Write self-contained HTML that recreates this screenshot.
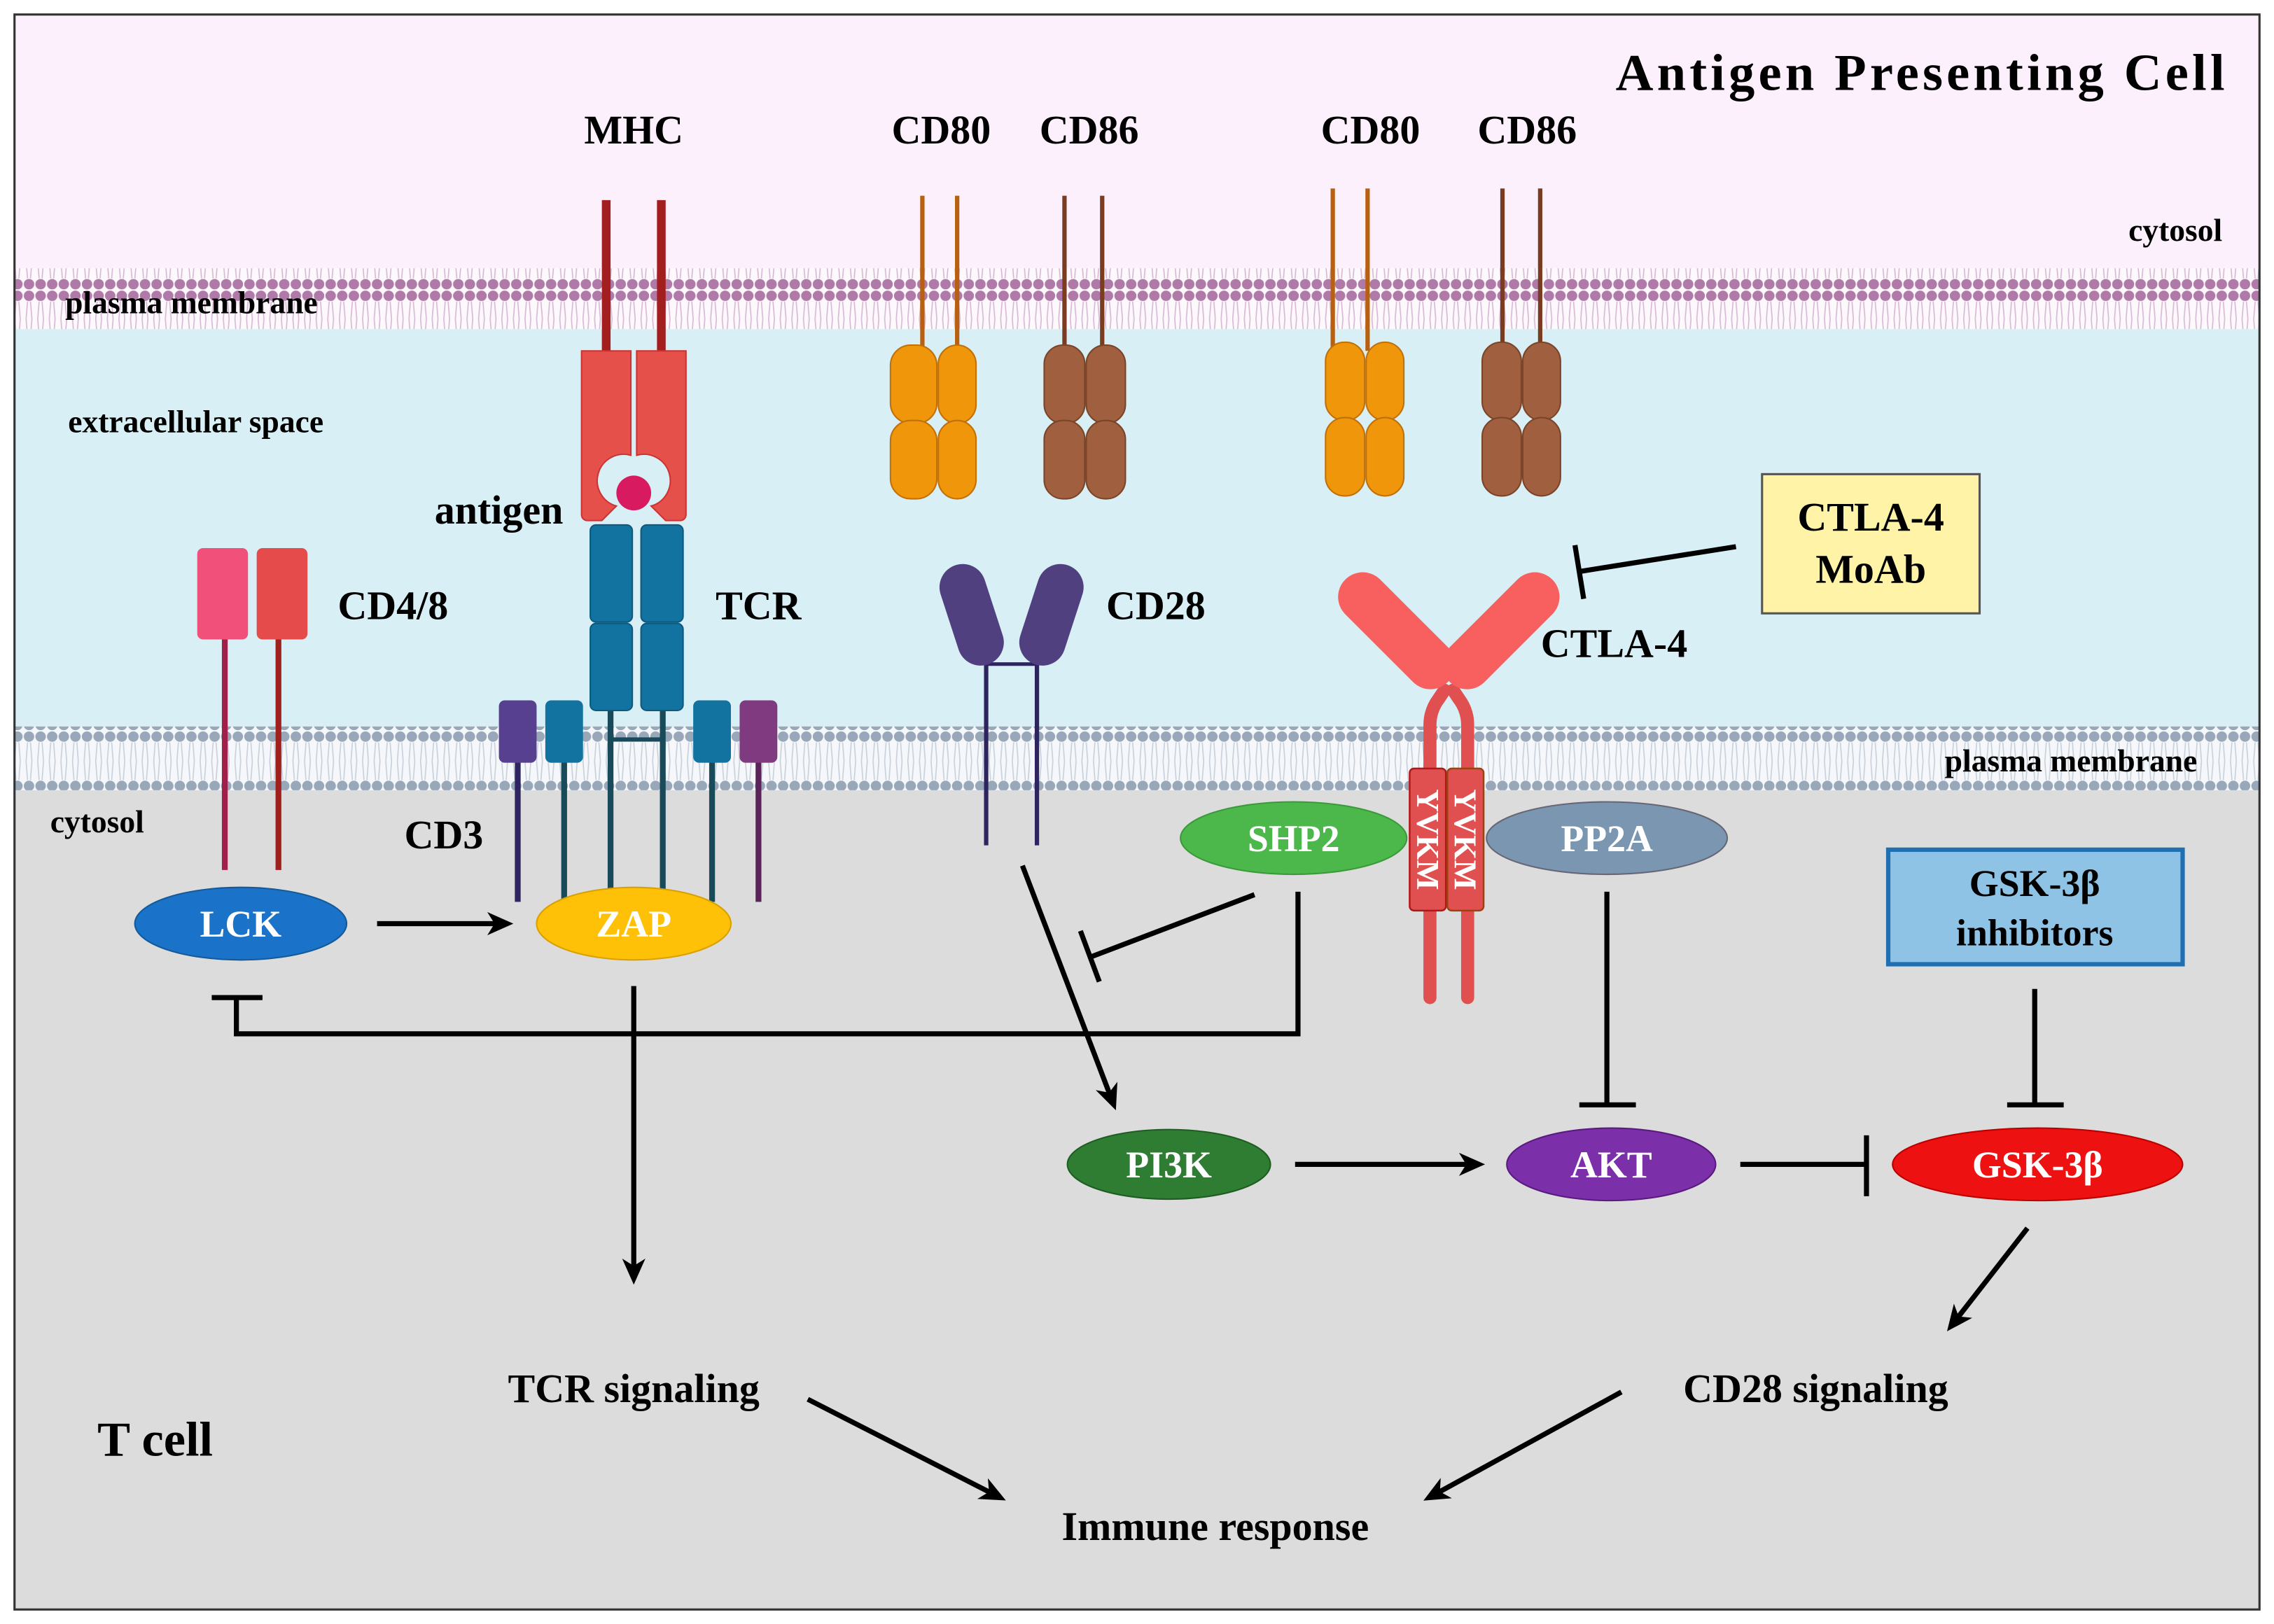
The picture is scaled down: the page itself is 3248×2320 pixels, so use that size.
<!DOCTYPE html>
<html><head><meta charset="utf-8"><style>
html,body{margin:0;padding:0;background:#fff}
svg{display:block}
text{font-family:"Liberation Serif",serif;font-weight:bold}
</style></head><body>
<svg width="3248" height="2320" viewBox="0 0 1568 1120" xmlns="http://www.w3.org/2000/svg">
<defs>
<pattern id="mp" x="0" y="0" width="8" height="40" patternUnits="userSpaceOnUse">
<circle cx="4" cy="4" r="3.6" fill="#b07aa8"/><circle cx="4" cy="36" r="3.6" fill="#b07aa8"/>
<path d="M3 8 L2 20 M5 8 L6 20 M3 32 L2 20 M5 32 L6 20" stroke="#d8b8d4" stroke-width="0.8"/>
</pattern>
<pattern id="mb" x="0" y="0" width="8" height="42" patternUnits="userSpaceOnUse">
<circle cx="4" cy="4" r="3.6" fill="#98a8b8"/><circle cx="4" cy="38" r="3.6" fill="#98a8b8"/>
<path d="M3 8 L2 21 M5 8 L6 21 M3 34 L2 21 M5 34 L6 21" stroke="#c8d0da" stroke-width="0.8"/>
</pattern>
<marker id="ah" markerWidth="18" markerHeight="16" refX="14" refY="8" orient="auto" markerUnits="userSpaceOnUse"><path d="M0,0 L18,8 L0,16 L5,8 z" fill="#000"/></marker>
</defs>
<rect x="0" y="0" width="1568" height="1120" fill="#fff"/>
<rect x="10" y="10" width="1548" height="175" fill="#fbf0fb"/>
<rect x="10" y="185" width="1548" height="42" fill="#fcf8fc"/>
<rect x="10" y="185" width="1548" height="42" fill="url(#mp)"/>
<rect x="10" y="227" width="1548" height="274" fill="#d8eff5"/>
<rect x="10" y="501" width="1548" height="44" fill="#f5f7fa"/>
<rect x="10" y="501" width="1548" height="44" fill="url(#mb)"/>
<rect x="10" y="545" width="1548" height="565" fill="#dcdcdc"/>
<rect x="10" y="10" width="1548" height="1100" fill="none" stroke="#333" stroke-width="1.5"/>

<g fill="#000" font-size="28" text-anchor="middle">
<text x="1324" y="62" font-size="36" textLength="420">Antigen Presenting Cell</text>
<text x="437" y="99">MHC</text>
<text x="649" y="99">CD80</text>
<text x="751" y="99">CD86</text>
<text x="945" y="99">CD80</text>
<text x="1053" y="99">CD86</text>
<text x="1500" y="166" font-size="22">cytosol</text>
<text x="132" y="216" font-size="22">plasma  membrane</text>
<text x="135" y="298" font-size="22">extracellular space</text>
<text x="344" y="361">antigen</text>
<text x="271" y="427">CD4/8</text>
<text x="523" y="427">TCR</text>
<text x="797" y="427">CD28</text>
<text x="1113" y="453">CTLA-4</text>
<text x="1428" y="532" font-size="22">plasma  membrane</text>
<text x="67" y="574" font-size="22">cytosol</text>
<text x="306" y="585">CD3</text>
<text x="437" y="967">TCR signaling</text>
<text x="1252" y="967">CD28 signaling</text>
<text x="838" y="1062">Immune response</text>
<text x="107" y="1004" font-size="34">T cell</text>
</g>

<g>
<line x1="418" y1="138" x2="418" y2="242" stroke="#a31f1f" stroke-width="6"/>
<line x1="456" y1="138" x2="456" y2="242" stroke="#a31f1f" stroke-width="6"/>
<path d="M401 242 h34 v72 a16 16 0 0 0 -10 35 l-10 10 h-10 a4 4 0 0 1 -4 -4z" fill="#e5504a" stroke="#c33" stroke-width="1"/>
<path d="M473 242 h-34 v72 a16 16 0 0 1 10 35 l10 10 h10 a4 4 0 0 0 4 -4z" fill="#e5504a" stroke="#c33" stroke-width="1"/>
<circle cx="437" cy="340" r="12" fill="#d81b60"/>
<line x1="421" y1="490" x2="421" y2="620" stroke="#184a5a" stroke-width="4"/>
<line x1="457" y1="490" x2="457" y2="620" stroke="#184a5a" stroke-width="4"/>
<line x1="421" y1="510" x2="457" y2="510" stroke="#184a5a" stroke-width="3"/>
<rect x="407" y="362" width="29" height="67" rx="4" fill="#1273a0" stroke="#0d5a80"/>
<rect x="442" y="362" width="29" height="67" rx="4" fill="#1273a0" stroke="#0d5a80"/>
<rect x="407" y="430" width="29" height="60" rx="4" fill="#1273a0" stroke="#0d5a80"/>
<rect x="442" y="430" width="29" height="60" rx="4" fill="#1273a0" stroke="#0d5a80"/>
<line x1="357" y1="525" x2="357" y2="622" stroke="#2e2460" stroke-width="4"/>
<line x1="389" y1="525" x2="389" y2="622" stroke="#184a5a" stroke-width="4"/>
<line x1="491" y1="525" x2="491" y2="622" stroke="#184a5a" stroke-width="4"/>
<line x1="523" y1="525" x2="523" y2="622" stroke="#5a2458" stroke-width="4"/>
<rect x="344" y="483" width="26" height="43" rx="4" fill="#574090"/>
<rect x="376" y="483" width="26" height="43" rx="4" fill="#1273a0"/>
<rect x="478" y="483" width="26" height="43" rx="4" fill="#1273a0"/>
<rect x="510" y="483" width="26" height="43" rx="4" fill="#803a80"/>
</g>
<line x1="155" y1="440" x2="155" y2="600" stroke="#a0204a" stroke-width="4"/>
<line x1="192" y1="440" x2="192" y2="600" stroke="#a0201e" stroke-width="4"/>
<rect x="136" y="378" width="35" height="63" rx="4" fill="#f0507a"/>
<rect x="177" y="378" width="35" height="63" rx="4" fill="#e54b4b"/>

<g stroke-width="3">
<line x1="636" y1="135" x2="636" y2="242" stroke="#b86010"/>
<line x1="660" y1="135" x2="660" y2="242" stroke="#b86010"/>
<line x1="734" y1="135" x2="734" y2="242" stroke="#7a3c20"/>
<line x1="760" y1="135" x2="760" y2="242" stroke="#7a3c20"/>
<line x1="919" y1="130" x2="919" y2="242" stroke="#b86010"/>
<line x1="943" y1="130" x2="943" y2="242" stroke="#b86010"/>
<line x1="1036" y1="130" x2="1036" y2="242" stroke="#7a3c20"/>
<line x1="1062" y1="130" x2="1062" y2="242" stroke="#7a3c20"/>
</g>
<g stroke-width="1">
<rect x="614" y="238" width="32" height="54" rx="14" fill="#f0960a" stroke="#c07008"/>
<rect x="647" y="238" width="26" height="54" rx="13" fill="#f0960a" stroke="#c07008"/>
<rect x="614" y="290" width="32" height="54" rx="14" fill="#f0960a" stroke="#c07008"/>
<rect x="647" y="290" width="26" height="54" rx="13" fill="#f0960a" stroke="#c07008"/>
<rect x="720" y="238" width="28" height="54" rx="13" fill="#a0603f" stroke="#7a4428"/>
<rect x="749" y="238" width="27" height="54" rx="13" fill="#a0603f" stroke="#7a4428"/>
<rect x="720" y="290" width="28" height="54" rx="13" fill="#a0603f" stroke="#7a4428"/>
<rect x="749" y="290" width="27" height="54" rx="13" fill="#a0603f" stroke="#7a4428"/>
<rect x="914" y="236" width="27" height="54" rx="13" fill="#f0960a" stroke="#c07008"/>
<rect x="942" y="236" width="26" height="54" rx="13" fill="#f0960a" stroke="#c07008"/>
<rect x="914" y="288" width="27" height="54" rx="13" fill="#f0960a" stroke="#c07008"/>
<rect x="942" y="288" width="26" height="54" rx="13" fill="#f0960a" stroke="#c07008"/>
<rect x="1022" y="236" width="27" height="54" rx="13" fill="#a0603f" stroke="#7a4428"/>
<rect x="1050" y="236" width="26" height="54" rx="13" fill="#a0603f" stroke="#7a4428"/>
<rect x="1022" y="288" width="27" height="54" rx="13" fill="#a0603f" stroke="#7a4428"/>
<rect x="1050" y="288" width="26" height="54" rx="13" fill="#a0603f" stroke="#7a4428"/>
</g>

<line x1="680" y1="440" x2="680" y2="583" stroke="#2e2460" stroke-width="3"/>
<line x1="715" y1="440" x2="715" y2="583" stroke="#2e2460" stroke-width="3"/>
<line x1="680" y1="458" x2="715" y2="458" stroke="#2e2460" stroke-width="2.5"/>
<rect x="654" y="388" width="32" height="72" rx="16" fill="#51407f" transform="rotate(-18 670 424)"/>
<rect x="709" y="388" width="32" height="72" rx="16" fill="#51407f" transform="rotate(18 725 424)"/>

<path d="M986 688 V500 Q986 490 992 482 L996 476" fill="none" stroke="#e05050" stroke-width="9" stroke-linecap="round"/>
<path d="M1012 688 V500 Q1012 490 1006 482 L1002 476" fill="none" stroke="#e05050" stroke-width="9" stroke-linecap="round"/>
<rect x="946" y="385" width="34" height="100" rx="17" fill="#f86060" transform="rotate(-45 963 435)"/>
<rect x="1018" y="385" width="34" height="100" rx="17" fill="#f86060" transform="rotate(45 1035 435)"/>
<rect x="972" y="530" width="25" height="98" rx="3" fill="#e05050" stroke="#b01818" stroke-width="1.2"/>
<rect x="998" y="530" width="25" height="98" rx="3" fill="#e05050" stroke="#a04010" stroke-width="1.2"/>
<text x="0" y="0" font-size="22" fill="#fff" font-weight="normal" text-anchor="middle" transform="translate(977 579) rotate(90)">YVKM</text>
<text x="0" y="0" font-size="22" fill="#fff" font-weight="normal" text-anchor="middle" transform="translate(1003 579) rotate(90)">YVKM</text>

<g font-size="26" text-anchor="middle" fill="#fff">
<ellipse cx="892" cy="578" rx="78" ry="25" fill="#4cb84c" stroke="#3a9a3a"/>
<text x="892" y="587">SHP2</text>
<ellipse cx="1108" cy="578" rx="83" ry="25" fill="#7a96b0" stroke="#667"/>
<text x="1108" y="587">PP2A</text>
<ellipse cx="166" cy="637" rx="73" ry="25" fill="#1a73c9" stroke="#145a9a"/>
<text x="166" y="646">LCK</text>
<ellipse cx="437" cy="637" rx="67" ry="25" fill="#ffc107" stroke="#d8a000"/>
<text x="437" y="646">ZAP</text>
<ellipse cx="806" cy="803" rx="70" ry="24" fill="#2e7d32" stroke="#1e5d22"/>
<text x="806" y="812">PI3K</text>
<ellipse cx="1111" cy="803" rx="72" ry="25" fill="#7b2fa8" stroke="#5a1a80"/>
<text x="1111" y="812">AKT</text>
<ellipse cx="1405" cy="803" rx="100" ry="25" fill="#ee1111" stroke="#b00"/>
<text x="1405" y="812">GSK-3β</text>
</g>

<rect x="1215" y="327" width="150" height="96" fill="#fff3a8" stroke="#555" stroke-width="1.5"/>
<text x="1290" y="366" font-size="28" text-anchor="middle">CTLA-4</text>
<text x="1290" y="402" font-size="28" text-anchor="middle">MoAb</text>
<rect x="1302" y="586" width="203" height="79" fill="#8fc3e6" stroke="#1f6fb2" stroke-width="3"/>
<text x="1403" y="618" font-size="26" text-anchor="middle">GSK-3β</text>
<text x="1403" y="652" font-size="26" text-anchor="middle">inhibitors</text>

<g stroke="#000" stroke-width="3.5" fill="none">
<line x1="260" y1="637" x2="350" y2="637" marker-end="url(#ah)"/>
<polyline points="895,615 895,713 163,713 163,688"/>
<line x1="146" y1="688" x2="181" y2="688"/>
<line x1="437" y1="680" x2="437" y2="882" marker-end="url(#ah)"/>
<line x1="865" y1="617" x2="752" y2="660"/>
<line x1="745" y1="642" x2="758" y2="677"/>
<line x1="705" y1="597" x2="768" y2="762" marker-end="url(#ah)"/>
<line x1="893" y1="803" x2="1020" y2="803" marker-end="url(#ah)"/>
<line x1="1200" y1="803" x2="1287" y2="803"/>
<line x1="1287" y1="783" x2="1287" y2="825"/>
<line x1="1108" y1="615" x2="1108" y2="762"/>
<line x1="1089" y1="762" x2="1128" y2="762"/>
<line x1="1403" y1="682" x2="1403" y2="762"/>
<line x1="1384" y1="762" x2="1423" y2="762"/>
<line x1="1197" y1="377" x2="1090" y2="394"/>
<line x1="1086" y1="376" x2="1092" y2="413"/>
<line x1="1398" y1="847" x2="1345" y2="915" marker-end="url(#ah)"/>
<line x1="557" y1="965" x2="690" y2="1033" marker-end="url(#ah)"/>
<line x1="1118" y1="960" x2="985" y2="1033" marker-end="url(#ah)"/>
</g>
</svg>
</body></html>
